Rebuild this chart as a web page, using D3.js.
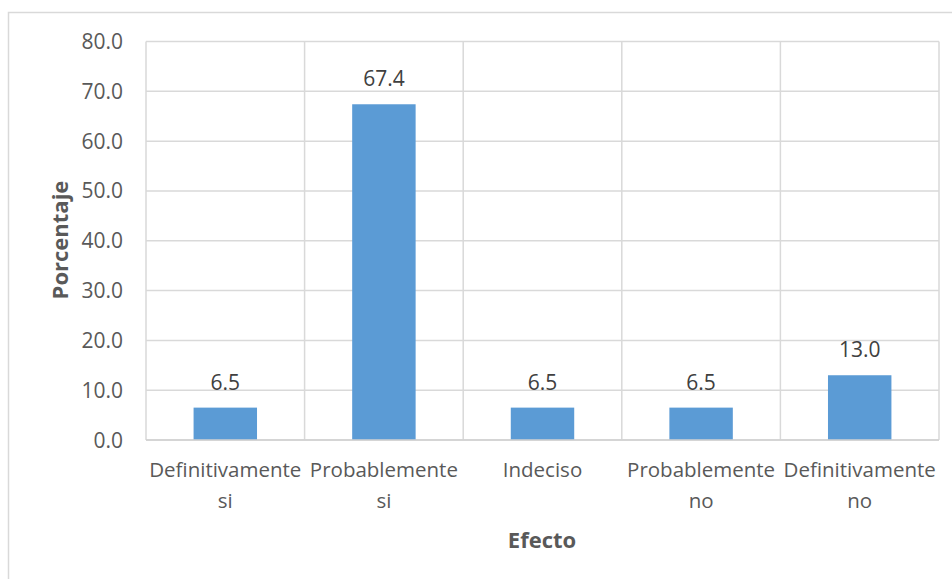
<!DOCTYPE html>
<html><head><meta charset="utf-8">
<script src="https://cdn.jsdelivr.net/npm/d3@7"></script>
<style>body{margin:0;background:#fff}svg{display:block;font-family:"Open Sans",sans-serif}</style>
</head><body><svg id="c" width="952" height="579"></svg>
<script>
const categories = [["Definitivamente","si"],["Probablemente","si"],["Indeciso"],["Probablemente","no"],["Definitivamente","no"]];
const values = [6.5, 67.4, 6.5, 6.5, 13.0];
const yTicks = [0,10,20,30,40,50,60,70,80];
const yTitle = "Porcentaje", xTitle = "Efecto";

const svg = d3.select("#c");
const grid = "#d9d9d9", text = "#595959";
svg.append("rect").attr("x",8.5).attr("y",12.5).attr("width",960).attr("height",600)
  .attr("fill","#fff").attr("stroke",grid).attr("stroke-width",1.5);

const L=146, R=939, T=41.5, B=440;
const x = d3.scaleBand().domain(d3.range(categories.length)).range([L,R]).paddingInner(0).paddingOuter(0);
const y = d3.scaleLinear().domain([0,80]).range([B,T]);

const g = svg.append("g");
g.selectAll(".hg").data(yTicks).join("line")
  .attr("x1",L).attr("x2",R).attr("y1",d=>y(d)).attr("y2",d=>y(d))
  .attr("stroke",grid).attr("stroke-width",1.5);
const bounds = d3.range(categories.length+1).map(i=> i<categories.length ? x(i) : R);
g.selectAll(".vg").data(bounds).join("line")
  .attr("x1",d=>d).attr("x2",d=>d).attr("y1",T).attr("y2",B)
  .attr("stroke",grid).attr("stroke-width",1.5);

const bw = x.bandwidth()*0.4;
g.selectAll(".bar").data(values).join("rect")
  .attr("x",(d,i)=>x(i)+x.bandwidth()/2-bw/2).attr("width",bw)
  .attr("y",d=>y(d)).attr("height",d=>B-y(d)).attr("fill","#5b9bd5");

g.append("line").attr("x1",L).attr("x2",R).attr("y1",B).attr("y2",B).attr("stroke","#d0d0d0").attr("stroke-width",1.5);

g.selectAll(".dl").data(values).join("text")
  .attr("x",(d,i)=>x(i)+x.bandwidth()/2).attr("y",d=>y(d)-18)
  .attr("text-anchor","middle").attr("font-size",21).attr("fill","#404040")
  .text(d=>d.toFixed(1));

g.selectAll(".yt").data(yTicks).join("text")
  .attr("x",123).attr("y",d=>y(d)+7.5).attr("text-anchor","end")
  .attr("font-size",21).attr("fill",text).text(d=>d.toFixed(1));

categories.forEach((lines,i)=>{
  const t = g.append("text").attr("text-anchor","middle").attr("font-size",20.5).attr("fill",text);
  lines.forEach((s,j)=>t.append("tspan").attr("x",x(i)+x.bandwidth()/2).attr("y",477+j*31).text(s));
});

g.append("text").attr("x",542).attr("y",548).attr("text-anchor","middle")
  .attr("font-size",22).attr("font-weight","bold").attr("fill",text).text(xTitle);
g.append("text").attr("transform","translate(68,240) rotate(-90)").attr("text-anchor","middle")
  .attr("font-size",22).attr("font-weight","bold").attr("fill",text).text(yTitle);
</script></body></html>
